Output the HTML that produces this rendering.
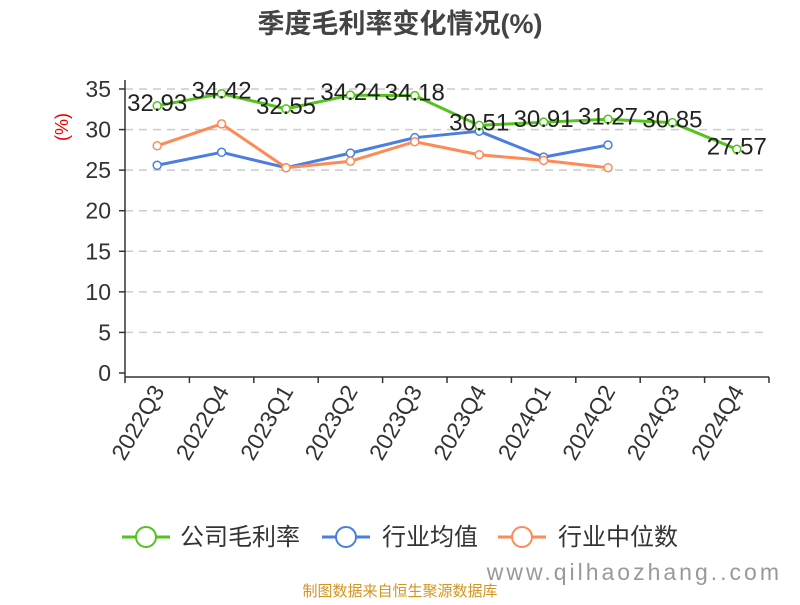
<!DOCTYPE html>
<html><head><meta charset="utf-8"><style>
body{margin:0;background:#fff;font-family:"Liberation Sans","Noto Sans CJK SC",sans-serif}
</style></head><body>
<svg width="800" height="600" xmlns="http://www.w3.org/2000/svg" font-family="Liberation Sans, Noto Sans CJK SC, sans-serif">
<text x="400" y="33" text-anchor="middle" font-size="27" font-weight="bold" fill="#444">季度毛利率变化情况(%)</text>
<text transform="translate(68,127) rotate(-90)" text-anchor="middle" font-size="18" fill="#e00">(%)</text>
<g id="grid"></g><g id="axes"></g><g id="series"></g>
<g font-size="24" fill="#333">
<g><line x1="122" y1="537" x2="170" y2="537" stroke="#52c41a" stroke-width="3"/><circle cx="146" cy="537" r="10" fill="#fff" stroke="#52c41a" stroke-width="2"/><text x="180" y="545">公司毛利率</text></g>
<g><line x1="322" y1="537" x2="370" y2="537" stroke="#4a7ee0" stroke-width="3"/><circle cx="346" cy="537" r="10" fill="#fff" stroke="#4a7ee0" stroke-width="2"/><text x="382" y="545">行业均值</text></g>
<g><line x1="498" y1="537" x2="546" y2="537" stroke="#ff8a55" stroke-width="3"/><circle cx="522" cy="537" r="10" fill="#fff" stroke="#ff8a55" stroke-width="2"/><text x="558" y="545">行业中位数</text></g>
</g>
<text x="400" y="596" text-anchor="middle" font-size="15" fill="#d4941e">制图数据来自恒生聚源数据库</text>
<text x="782" y="580" text-anchor="end" font-size="23" fill="#999" letter-spacing="3">www.qilhaozhang..com</text>
</svg>
<script>
const categories=["2022Q3","2022Q4","2023Q1","2023Q2","2023Q3","2023Q4","2024Q1","2024Q2","2024Q3","2024Q4"];
const companyValues=[32.93,34.42,32.55,34.24,34.18,30.51,30.91,31.27,30.85,27.57];
const industryAvg=[25.6,27.2,25.3,27.1,29.0,29.8,26.6,28.1];
const industryMedian=[28.0,30.7,25.3,26.1,28.5,26.9,26.2,25.3];
const yTicks=[0,5,10,15,20,25,30,35];
const NS="http://www.w3.org/2000/svg";
const x0=125,x1=769,yBase=373,yTop=89,yMax=35;
const band=(x1-x0)/categories.length;
const X=i=>x0+band*(i+0.5);
const Y=v=>yBase-(v/yMax)*(yBase-yTop);
function mk(tag,attrs,parent){const e=document.createElementNS(NS,tag);for(const k in attrs)e.setAttribute(k,attrs[k]);parent.appendChild(e);return e;}
const grid=document.getElementById('grid'),axes=document.getElementById('axes'),ser=document.getElementById('series');
yTicks.forEach(t=>{
 if(t>0){const l=mk('line',{x1:x0,x2:x1,y1:Y(t),y2:Y(t),stroke:'#ccc','stroke-dasharray':'8,6','stroke-width':1.5},grid);
 
 }
 const tk=mk('line',{x1:x0-6,x2:x0,y1:Y(t),y2:Y(t),stroke:'#333','stroke-width':1.5},axes);
 
 
 const tx=mk('text',{x:x0-14,y:Y(t)+8,'text-anchor':'end','font-size':23,fill:'#333'},axes);tx.textContent=t;
 
 
});
const ya=mk('line',{x1:x0,x2:x0,y1:yTop-9,y2:yBase+4,stroke:'#333','stroke-width':1.5},axes);


const xa=mk('line',{x1:x0,x2:x1,y1:yBase+4,y2:yBase+4,stroke:'#333','stroke-width':1.5},axes);


for(let i=0;i<=categories.length;i++){const t=mk('line',{x1:x0+band*i,x2:x0+band*i,y1:yBase+4,y2:yBase+10,stroke:'#333','stroke-width':1.5},axes);
 
 }
categories.forEach((c,i)=>{const t=mk('text',{transform:`translate(${X(i)+8},${yBase+18}) rotate(-60)`,'text-anchor':'end','font-size':23,fill:'#333'},axes);t.textContent=c;
 
 });
function series(vals,color,name,labels){
 const g=mk('g',{},ser);
 
 
 const p=mk('polyline',{points:vals.map((v,i)=>X(i)+','+Y(v)).join(' '),fill:'none',stroke:color,'stroke-width':3,'stroke-linejoin':'round'},g);
 
 
 vals.forEach((v,i)=>{const c=mk('circle',{cx:X(i),cy:Y(v),r:4,fill:'#fff',stroke:color,'stroke-width':1.5},g);
  
  
  if(labels){const t=mk('text',{x:X(i),y:Y(v)+5,'text-anchor':'middle','font-size':24,fill:'#222'},g);t.textContent=v.toFixed(2);
   
   }
 });
}
series(industryAvg,'#4a7ee0','industry-avg-series',false);
series(industryMedian,'#ff8a55','industry-median-series',false);
series(companyValues,'#52c41a','company-series',true);
</script>
</body></html>
